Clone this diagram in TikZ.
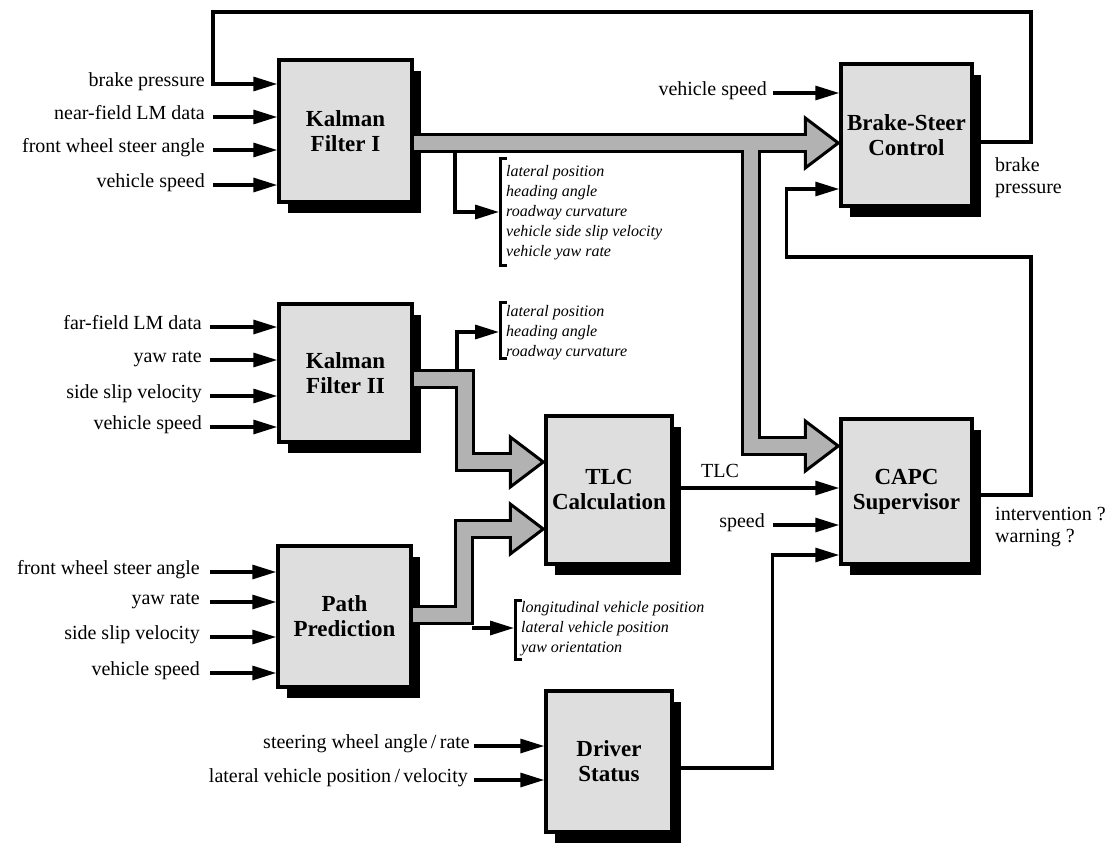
\documentclass[tikz,border=0pt]{standalone}
\usepackage{fontspec}
\setmainfont{Liberation Serif}
\usetikzlibrary{arrows.meta,calc,shadows}

% wide arrow head pointing right, tip at #1
\newcommand{\fathead}[1]{\filldraw[fathead] (#1) -- ++(-33,-25) -- ++(0,50) -- cycle;}

\begin{document}
\begin{tikzpicture}[x=1pt,y=-1pt,
  box/.style={draw=black, line width=3.5pt, fill=black!13, align=center,
    font=\bfseries\fontsize{23}{25}\selectfont,
    drop shadow={shadow xshift=9pt, shadow yshift=-11pt, fill=black, opacity=1}},
  lbl/.style={inner sep=0pt, font=\fontsize{20}{22}\selectfont, text height=1.4ex, text depth=0.3ex},
  rlbl/.style={inner sep=0pt, align=left, font=\fontsize{20}{22}\selectfont},
  lst/.style={inner sep=0pt, align=left, font=\itshape\fontsize{16}{20}\selectfont},
  sig/.style={line width=3.2pt, -{Triangle[length=24pt,width=14pt]}},
  bandout/.style={line width=20pt, line join=miter, black},
  bandin/.style={line width=14pt, line join=miter, black!30},
  fathead/.style={fill=black!30, draw=black, line width=3pt, line join=miter},
  brk/.style={line width=3pt}]

\path[use as bounding box] (0,0) rectangle (1118,843);

% ---- blocks ----
\node[box, minimum width=133pt, minimum height=142pt] (kf1) at (345.5,131) {Kalman\\Filter I};
\node[box, minimum width=131pt, minimum height=142pt] (bsc) at (906.5,135) {Brake-Steer\\Control};
\node[box, minimum width=133pt, minimum height=138pt] (kf2) at (345.5,373) {Kalman\\Filter II};
\node[box, minimum width=126pt, minimum height=148pt] (tlc) at (609,490) {TLC\\Calculation};
\node[box, minimum width=131pt, minimum height=145pt] (capc) at (906.5,491.5) {CAPC\\Supervisor};
\node[box, minimum width=133pt, minimum height=141pt] (pp) at (344.5,616.5) {Path\\Prediction};
\node[box, minimum width=126pt, minimum height=141pt] (ds) at (609,761.5) {Driver\\Status};

% ---- wide data paths ----
\coordinate (a0) at ($(kf1.east)+(0,12)$);
\coordinate (j1) at (751,143);
\coordinate (j2) at (751,446);
\coordinate (t1) at ($(j1 -| bsc.west)+(-1,0)$);
\coordinate (t2) at ($(j2 -| capc.west)+(-1,0)$);
\coordinate (b0) at ($(kf2.east)+(0,6)$);
\coordinate (k2) at (465,379);
\coordinate (k3) at (465,462);
\coordinate (t3) at ($(k3 -| tlc.west)+(-1,0)$);
\coordinate (c0) at ($(pp.east)+(0,-1.5)$);
\coordinate (p2) at (464,615);
\coordinate (p3) at (464,529);
\coordinate (t4) at ($(p3 -| tlc.west)+(-1,0)$);

\draw[bandout] (a0) -- ($(t1)+(-33,0)$);
\draw[bandout] (j1) -- (j2) -- ($(t2)+(-33,0)$);
\draw[bandout] (b0) -- (k2) -- (k3) -- ($(t3)+(-33,0)$);
\draw[bandout] (c0) -- (p2) -- (p3) -- ($(t4)+(-33,0)$);
\fathead{t1}
\fathead{t2}
\fathead{t3}
\fathead{t4}
\draw[bandin] (a0) -- ($(t1)+(-30,0)$);
\draw[bandin] (j1) -- (j2) -- ($(t2)+(-30,0)$);
\draw[bandin] (b0) -- (k2) -- (k3) -- ($(t3)+(-30,0)$);
\draw[bandin] (c0) -- (p2) -- (p3) -- ($(t4)+(-30,0)$);

% ---- state lists ----
\node[lst, anchor=west] (st1) at (506,213) {lateral position\\heading angle\\roadway curvature\\vehicle side slip velocity\\vehicle yaw rate};
\draw[brk] (507,158) -- (500,158) -- (500,265) -- (507,265);
\coordinate (s1) at (455,153);
\coordinate (br1) at (499,212);
\draw[sig] (s1) |- (br1);

\node[lst, anchor=west] (st2) at (506,333) {lateral position\\heading angle\\roadway curvature};
\draw[brk] (507,302) -- (500,302) -- (500,358) -- (507,358);
\coordinate (s2) at (457,369);
\coordinate (br2) at (499,332);
\draw[sig] (s2) |- (br2);

\node[lst, anchor=west] (st3) at (521,629) {longitudinal vehicle position\\lateral vehicle position\\yaw orientation};
\draw[brk] (522,600) -- (515,600) -- (515,659) -- (522,659);
\coordinate (s3) at (472,628);
\coordinate (br3) at (514,628);
\draw[sig] (s3) -- (br3);

% ---- inputs of Kalman Filter I ----
\node[lbl, anchor=east] (bp) at (205,84) {brake pressure};
\node[lbl, anchor=east] (nf) at (205,117) {near-field LM data};
\node[lbl, anchor=east] (fw1) at (205,150) {front wheel steer angle};
\node[lbl, anchor=east] (vs1) at (205,185) {vehicle speed};
\draw[sig] ([xshift=8pt]nf.east) -- (nf.east -| kf1.west);
\draw[sig] ([xshift=8pt]fw1.east) -- (fw1.east -| kf1.west);
\draw[sig] ([xshift=8pt]vs1.east) -- (vs1.east -| kf1.west);
% brake pressure fed back from the brake-steer controller
\draw[sig] ($(bsc.east)+(0,7)$) -| (1031,12) -| ([xshift=8pt]bp.east) -- (bp.east -| kf1.west);

% ---- inputs of Kalman Filter II ----
\node[lbl, anchor=east] (ff) at (202,327) {far-field LM data};
\node[lbl, anchor=east] (yr2) at (202,360) {yaw rate};
\node[lbl, anchor=east] (ss2) at (202,396) {side slip velocity};
\node[lbl, anchor=east] (vs2) at (202,427) {vehicle speed};
\foreach \n in {ff,yr2,ss2,vs2}
  \draw[sig] ([xshift=8pt]\n.east) -- (\n.east -| kf2.west);

% ---- inputs of path prediction ----
\node[lbl, anchor=east] (fw3) at (200,572) {front wheel steer angle};
\node[lbl, anchor=east] (yr3) at (200,602) {yaw rate};
\node[lbl, anchor=east] (ss3) at (200,637) {side slip velocity};
\node[lbl, anchor=east] (vs3) at (200,673) {vehicle speed};
\foreach \n in {fw3,yr3,ss3,vs3}
  \draw[sig] ([xshift=10pt]\n.east) -- (\n.east -| pp.west);

% ---- inputs of driver status ----
\node[lbl, anchor=east] (sw) at (470,746) {steering wheel angle\,/\,rate};
\node[lbl, anchor=east] (lv) at (468,780) {lateral vehicle position\,/\,velocity};
\draw[sig] ([xshift=4pt]sw.east) -- (sw.east -| ds.west);
\draw[sig] ([xshift=6pt]lv.east) -- (lv.east -| ds.west);

% ---- brake-steer control ----
\node[lbl, anchor=east] (vsb) at (767,93) {vehicle speed};
\draw[sig] ([xshift=6pt]vsb.east) -- (vsb.east -| bsc.west);
\node[rlbl, anchor=west] (bpo) at (995,178) {brake\\pressure};

% ---- CAPC supervisor ----
\coordinate (tlco) at ($(tlc.east)+(0,-2)$);
\draw[sig] (tlco) -- (tlco -| capc.west);
\node[lbl] (tlcl) at (720,475) {TLC};
\node[lbl, anchor=east] (spd) at (765,525) {speed};
\draw[sig] ([xshift=8pt]spd.east) -- (spd.east -| capc.west);
\coordinate (dsi) at ($(capc.west)+(0,63.5)$);
\draw[sig] ($(ds.east)+(0,6.5)$) -| ([xshift=-67pt]dsi) -- (dsi);
\node[rlbl, anchor=west] (iw) at (995,527) {intervention ?\\warning ?};
\coordinate (bsi) at ($(bsc.west)+(0,54)$);
\draw[sig] ($(capc.east)+(0,3.5)$) -| (1031,257) -| ([xshift=-53pt]bsi) -- (bsi);

\end{tikzpicture}
\end{document}
